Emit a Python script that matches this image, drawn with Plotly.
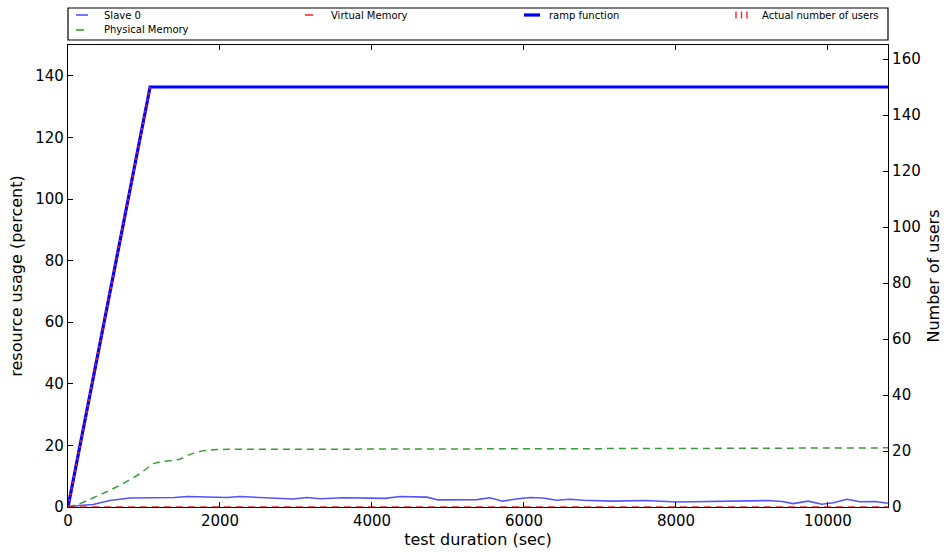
import plotly.graph_objects as go

# ---- data -------------------------------------------------------------
slave_t = [0, 150, 330, 550, 815, 1000, 1210, 1400, 1570, 1800, 2090, 2260, 2450,
           2700, 2960, 3140, 3320, 3620, 3800, 3970, 4170, 4370, 4550, 4720, 4870,
           5070, 5380, 5550, 5720, 5900, 6080, 6250, 6430, 6600, 6780, 7170, 7610,
           8010, 8320, 8580, 9200, 9400, 9540, 9740, 9920, 10070, 10250, 10420,
           10620, 10790]
slave_cpu = [0, 0.5, 0.8, 2.1, 2.9, 3.0, 2.9, 3.1, 3.4, 3.3, 3.1, 3.4, 3.2,
             3.1, 2.6, 3.1, 2.7, 3.0, 3.0, 2.9, 2.8, 3.4, 3.3, 3.2, 2.3,
             2.4, 2.4, 3.0, 1.9, 2.6, 3.1, 2.9, 2.2, 2.5, 2.2, 1.9, 2.1,
             1.6, 1.7, 1.9, 2.1, 1.8, 1.1, 1.9, 0.9, 1.4, 2.5, 1.7,
             1.8, 1.2]

phys_t = [0, 160, 550, 724, 947, 1121, 1210, 1473, 1605, 1780, 1960, 2500,
          4000, 6000, 8000, 10000, 10790]
phys_mem = [0, 1.1, 5.4, 7.6, 10.8, 14.1, 14.6, 15.5, 17.1, 18.3, 18.7, 18.7,
            18.8, 18.9, 19.0, 19.1, 19.2]

virt_t = [0, 2000, 4000, 6000, 8000, 10000, 10790]
virt_mem = [0, 0, 0, 0, 0, 0, 0]

ramp_t = [0, 1080, 10790]
ramp_users = [0, 150, 150]

actual_t = [0, 60, 120, 180, 240, 300, 360, 420, 480, 540, 600, 660, 720, 780,
            840, 900, 960, 1020, 1080]
actual_users = [0, 8, 17, 25, 33, 42, 50, 58, 67, 75, 83, 92, 100, 108,
                117, 125, 133, 142, 150]

x_ticks = [0, 2000, 4000, 6000, 8000, 10000]
x_labels = ["0", "2000", "4000", "6000", "8000", "10000"]
y_ticks = [0, 20, 40, 60, 80, 100, 120, 140]
y2_ticks = [0, 20, 40, 60, 80, 100, 120, 140, 160]

FONT = "DejaVu Sans"
C_SLAVE = "rgba(40,40,255,0.8)"
C_PHYS = "rgba(20,140,20,0.85)"
C_VIRT = "rgba(255,0,0,0.85)"
C_RAMP = "#0000ff"
C_ACT = "#ff2020"

fig = go.Figure()
fig.add_trace(go.Scatter(x=slave_t, y=slave_cpu, mode="lines", name="Slave 0",
                         line=dict(color=C_SLAVE, width=1.6)))
fig.add_trace(go.Scatter(x=phys_t, y=phys_mem, mode="lines", name="Physical Memory",
                         line=dict(color=C_PHYS, width=1.5, dash="7px,5px")))
fig.add_trace(go.Scatter(x=virt_t, y=virt_mem, mode="lines", name="Virtual Memory",
                         line=dict(color=C_VIRT, width=1.5, dash="7px,5px")))
fig.add_trace(go.Scatter(x=ramp_t, y=ramp_users, mode="lines", name="ramp function",
                         yaxis="y2", line=dict(color=C_RAMP, width=3.2)))
fig.add_trace(go.Scatter(x=actual_t, y=actual_users, mode="lines",
                         name="Actual number of users", yaxis="y2",
                         line=dict(color=C_ACT, width=1.8, dash="2px,4px")))

# ---- hand-drawn legend box above the axes (4 columns) -----------------
W, H = 820.0, 462.0
def px(x):  # horizontal pixel offset from the left spine -> paper
    return x / W
def py(y):  # pixel height above the bottom spine -> paper
    return y / H

shapes = [dict(type="rect", xref="paper", yref="paper", x0=0, x1=1,
               y0=py(467), y1=py(499), line=dict(color="black", width=1.2),
               fillcolor="white")]
row1, row2 = py(492), py(477)
entries = [
    # (symbol x0, symbol x1, row, text x, label, color, width, kind)
    (8, 20, row1, 34, "Slave 0", C_SLAVE, 1.6, "line"),
    (8, 16, row2, 34, "Physical Memory", C_PHYS, 1.6, "line"),
    (237, 245, row1, 261, "Virtual Memory", C_VIRT, 1.6, "line"),
    (456, 472, row1, 479, "ramp function", C_RAMP, 3.2, "line"),
    (668, 681, row1, 692, "Actual number of users", C_ACT, 1.4, "ticks"),
]
annotations = []
for x0, x1, ry, tx, label, col, w, kind in entries:
    if kind == "line":
        shapes.append(dict(type="line", xref="paper", yref="paper",
                           x0=px(x0), x1=px(x1), y0=ry, y1=ry,
                           line=dict(color=col, width=w)))
    else:
        for k in range(3):
            xx = px(x0 + k * 5.5)
            shapes.append(dict(type="line", xref="paper", yref="paper",
                               x0=xx, x1=xx, y0=ry - py(3.5), y1=ry + py(3.5),
                               line=dict(color=col, width=w)))
    annotations.append(dict(text=label, xref="paper", yref="paper", x=px(tx), y=ry,
                            xanchor="left", yanchor="middle", showarrow=False,
                            font=dict(family=FONT, size=10, color="black")))

TITLE_SIZE = 16
fig.update_layout(
    width=944, height=552,
    margin=dict(l=68, r=56, t=45, b=45),
    paper_bgcolor="white", plot_bgcolor="white",
    font=dict(family=FONT, size=15, color="black"),
    showlegend=False,
    shapes=shapes, annotations=annotations,
    xaxis=dict(range=[0, 10790], tickvals=x_ticks, ticktext=x_labels,
               ticks="inside", ticklen=5, automargin=False,
               tickcolor="black", showgrid=False, zeroline=False,
               showline=True, linecolor="black", linewidth=1.2, mirror="ticks",
               title=dict(text="test duration (sec)", standoff=2,
                          font=dict(size=TITLE_SIZE)),
               tickfont=dict(size=15)),
    yaxis=dict(range=[0, 150], tickvals=y_ticks, ticks="inside", ticklen=5,
               automargin=False,
               tickcolor="black", showgrid=False, zeroline=False,
               showline=True, linecolor="black", linewidth=1.2,
               title=dict(text="resource usage (percent)", standoff=8,
                          font=dict(size=TITLE_SIZE)),
               tickfont=dict(size=15)),
    yaxis2=dict(range=[0, 165], tickvals=y2_ticks, overlaying="y", side="right",
                automargin=False,
                ticks="inside", ticklen=5, tickcolor="black", showgrid=False,
                zeroline=False, showline=True, linecolor="black", linewidth=1.2,
                title=dict(text="Number of users", standoff=8,
                           font=dict(size=TITLE_SIZE)),
                tickfont=dict(size=15)),
)

fig.write_html("out.html")
